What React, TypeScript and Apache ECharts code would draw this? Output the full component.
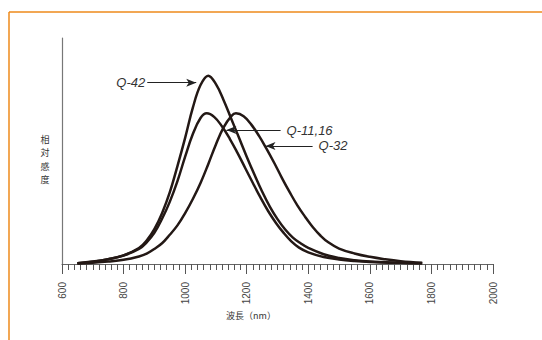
import React, { useEffect, useRef } from "react";
import * as echarts from "echarts";

// Wavelength (nm) and relative sensitivity
const q42Nm = [650, 700, 750, 800, 850, 875, 900, 925, 950, 975, 1000, 1025, 1050, 1075, 1100, 1125, 1150, 1175, 1200, 1225, 1250, 1275, 1300, 1325, 1350, 1375, 1400, 1450, 1500, 1550, 1600, 1700, 1770];
const q42Val = [0.004, 0.012, 0.025, 0.046, 0.085, 0.125, 0.185, 0.27, 0.38, 0.52, 0.67, 0.83, 0.95, 1.0, 0.955, 0.87, 0.77, 0.67, 0.57, 0.475, 0.385, 0.305, 0.238, 0.183, 0.14, 0.11, 0.085, 0.052, 0.032, 0.02, 0.013, 0.007, 0.004];

const q11Nm = [650, 700, 750, 800, 850, 875, 900, 925, 950, 975, 1000, 1025, 1050, 1070, 1095, 1120, 1145, 1170, 1195, 1220, 1245, 1270, 1295, 1320, 1345, 1370, 1400, 1450, 1500, 1550, 1600, 1700, 1770];
const q11Val = [0.004, 0.013, 0.026, 0.045, 0.08, 0.115, 0.165, 0.24, 0.33, 0.44, 0.57, 0.69, 0.775, 0.8, 0.78, 0.73, 0.665, 0.59, 0.51, 0.43, 0.352, 0.28, 0.218, 0.165, 0.12, 0.087, 0.062, 0.037, 0.024, 0.016, 0.011, 0.006, 0.004];

const q32Nm = [650, 700, 750, 800, 850, 875, 900, 925, 950, 975, 1000, 1025, 1050, 1075, 1100, 1125, 1150, 1165, 1190, 1215, 1240, 1265, 1290, 1315, 1340, 1365, 1390, 1415, 1440, 1465, 1500, 1550, 1600, 1650, 1700, 1770];
const q32Val = [0.003, 0.007, 0.013, 0.022, 0.04, 0.055, 0.08, 0.11, 0.155, 0.205, 0.27, 0.345, 0.43, 0.53, 0.635, 0.725, 0.785, 0.8, 0.785, 0.74, 0.68, 0.61, 0.535, 0.455, 0.38, 0.31, 0.25, 0.195, 0.15, 0.115, 0.082, 0.056, 0.038, 0.025, 0.015, 0.006];

const seriesNames = ["Q-42", "Q-11,16", "Q-32"];
// annotation arrows: [startNm, endNm, value]
const arrowQ42 = [877, 1036, 0.963];
const arrowQ11 = [1310, 1134, 0.7115];
const arrowQ32 = [1414, 1261, 0.6266];

const yTitleChars = ["相", "対", "感", "度"];
const xTitle = "波長（nm）";

const xMin = 600;
const xMax = 2000;
const xInterval = 200;
const yMax = 1.2;

const curveColor = "#231815";
const textColor = "#333333";

function zip(xs: number[], ys: number[]) {
  return xs.map((x, i) => [x, ys[i]]);
}

function arrowLine(a: number[], name: string, distance: number) {
  return {
    silent: true,
    symbol: ["none", "arrow"],
    symbolSize: [6, 10],
    lineStyle: { color: "#222", width: 1, type: "solid" },
    label: {
      show: true,
      position: "start",
      formatter: name,
      fontStyle: "italic",
      fontSize: 13,
      fontFamily: "Liberation Sans, Arial, sans-serif",
      color: textColor,
      distance,
    },
    data: [[{ coord: [a[0], a[2]] }, { coord: [a[1], a[2]] }]],
  };
}

export default function App() {
  const ref = useRef<HTMLDivElement>(null);
  useEffect(() => {
    document.body.style.margin = "0";
    if (!ref.current) return;
    const chart = echarts.init(ref.current, null, { renderer: "svg" });
    const lineBase = {
      type: "line",
      smooth: 0.4,
      showSymbol: false,
      symbol: "none",
      lineStyle: { color: curveColor, width: 2.5 },
    };
    chart.setOption({
      animation: false,
      backgroundColor: "#ffffff",
      grid: { left: 62, right: 49, top: 38, bottom: 76 },
      xAxis: {
        type: "value",
        min: xMin,
        max: xMax,
        interval: xInterval,
        axisLine: { show: true, lineStyle: { color: "#666", width: 1.2 } },
        axisTick: { show: true, inside: false, length: 10, lineStyle: { color: "#555", width: 1 } },
        minorTick: { show: true, splitNumber: 10, length: 6, lineStyle: { color: "#555", width: 1 } },
        splitLine: { show: false },
        axisLabel: {
          rotate: 90,
          margin: 18,
          fontSize: 10,
          color: "#444",
          fontFamily: "Liberation Sans, Arial, sans-serif",
          formatter: (v: number) => String(v),
        },
      },
      yAxis: {
        type: "value",
        min: 0,
        max: yMax,
        axisLine: { show: true, lineStyle: { color: "#777", width: 1.2 } },
        axisTick: { show: false },
        axisLabel: { show: false },
        splitLine: { show: false },
      },
      series: [
        { ...lineBase, name: seriesNames[0], data: zip(q42Nm, q42Val), markLine: arrowLine(arrowQ42, seriesNames[0], 2) },
        { ...lineBase, name: seriesNames[1], data: zip(q11Nm, q11Val), markLine: arrowLine(arrowQ11, seriesNames[1], 6) },
        { ...lineBase, name: seriesNames[2], data: zip(q32Nm, q32Val), markLine: arrowLine(arrowQ32, seriesNames[2], 6) },
      ],
      graphic: [
        { type: "line", shape: { x1: 9, y1: 12, x2: 542, y2: 12 }, style: { stroke: "#EE8A1B", lineWidth: 1.5 } },
        { type: "line", shape: { x1: 9, y1: 12, x2: 9, y2: 340 }, style: { stroke: "#EE8A1B", lineWidth: 1.5 } },
        ...yTitleChars.map((c, i) => ({
          type: "text",
          x: 45,
          y: 139 + i * 13.5,
          style: {
            text: c,
            fontSize: 9,
            fill: textColor,
            align: "center",
            verticalAlign: "middle",
            fontFamily: "Noto Sans CJK JP, sans-serif",
          },
        })),
        {
          type: "text",
          x: 251,
          y: 315,
          style: {
            text: xTitle,
            fontSize: 9,
            fill: textColor,
            align: "center",
            verticalAlign: "middle",
            fontFamily: "Noto Sans CJK JP, sans-serif",
          },
        },
      ],
    });
    return () => chart.dispose();
  }, []);
  return <div ref={ref} style={{ width: 542, height: 340 }} />;
}
